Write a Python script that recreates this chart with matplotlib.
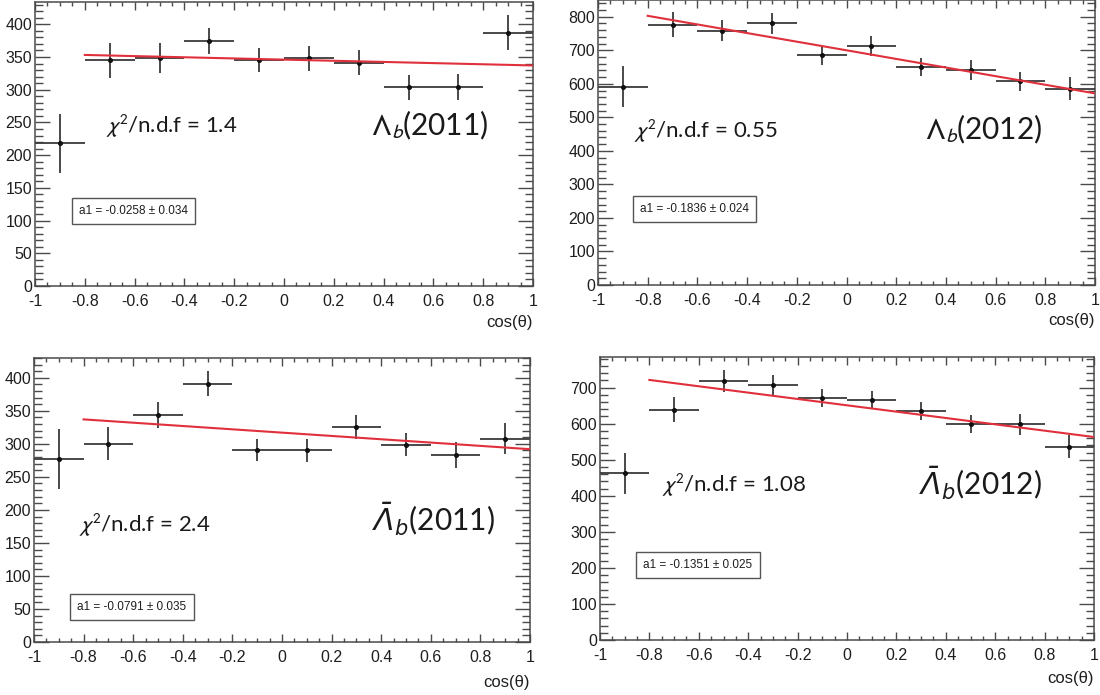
import numpy as np
import matplotlib
matplotlib.use("Agg")
import matplotlib.pyplot as plt
from matplotlib.ticker import MultipleLocator

# math fonts: italic throughout (used for the anti-baryon symbol)
plt.rcParams["mathtext.fontset"] = "custom"
plt.rcParams["mathtext.rm"] = "DejaVu Sans:italic"
plt.rcParams["mathtext.it"] = "DejaVu Sans:italic"
plt.rcParams["mathtext.sf"] = "DejaVu Sans"
plt.rcParams["mathtext.bf"] = "DejaVu Sans:bold"

W, H = 1100, 695

# bin centres of cos(theta), bin half-width 0.1
cos_theta = [-0.9, -0.7, -0.5, -0.3, -0.1, 0.1, 0.3, 0.5, 0.7, 0.9]

lb2011_counts = [218, 345, 348, 375, 345, 348, 341, 304, 304, 387]
lb2011_errs = [45, 27, 23, 20, 18, 19, 19, 19, 20, 27]

lb2012_counts = [592, 776, 758, 780, 685, 713, 651, 642, 607, 585]
lb2012_errs = [60, 37, 31, 30, 28, 31, 27, 30, 29, 34]

lbbar2011_counts = [277, 300, 344, 391, 291, 290, 325, 299, 283, 308]
lbbar2011_errs = [46, 25, 20, 19, 17, 18, 18, 18, 20, 24]

lbbar2012_counts = [462, 639, 718, 708, 671, 667, 636, 599, 598, 536]
lbbar2012_errs = [58, 35, 30, 28, 26, 25, 25, 26, 29, 32]

# fit N * (1 + a1 * cos(theta)) over [-0.8, 1]
fit_norm = [346, 700, 317, 651]
fit_a1 = [-0.0258, -0.1836, -0.0791, -0.1351]
fit_a1_err = [0.034, 0.024, 0.035, 0.025]
chi2_ndf = ["1.4", "0.55", "2.4", "1.08"]
titles = [r"$\Lambda_b$(2011)", r"$\Lambda_b$(2012)",
          r"$\bar{\Lambda}_b$(2011)", r"$\bar{\Lambda}_b$(2012)"]
# upright capital Lambda for the baryon, italic for the anti-baryon
title_mathfont = ["stixsans", "stixsans", "custom", "custom"]

panels = [
    dict(box=(35, 533, 1.7, 286), ymax=434.5, major=50, minor=10,
         y=lb2011_counts, e=lb2011_errs,
         chi=(-0.715, 244), tit=(0.35, 245), a1=(-0.605, 114), xlab=322),
    dict(box=(598, 1095, 0.0, 285), ymax=850, major=100, minor=20,
         y=lb2012_counts, e=lb2012_errs,
         chi=(-0.854, 459), tit=(0.317, 464), a1=(-0.61, 226), xlab=320),
    dict(box=(34, 530, 358, 642), ymax=430, major=50, minor=10,
         y=lbbar2011_counts, e=lbbar2011_errs,
         chi=(-0.82, 177), tit=(0.363, 185), a1=(-0.605, 53), xlab=682),
    dict(box=(600, 1094, 357, 640), ymax=785, major=100, minor=20,
         y=lbbar2012_counts, e=lbbar2012_errs,
         chi=(-0.747, 429), tit=(0.291, 434), a1=(-0.603, 207), xlab=678),
]

fig = plt.figure(figsize=(W / 100, H / 100), dpi=100)
fig.patch.set_facecolor("white")

axis_col = "#4a4a4a"
text_col = "#1e1e1e"
tick_font = "Liberation Sans"

for i, p in enumerate(panels):
    x0, x1, y0, y1 = p["box"]
    ax = fig.add_axes([x0 / W, 1 - y1 / H, (x1 - x0) / W, (y1 - y0) / H])
    ax.set_xlim(-1, 1)
    ax.set_ylim(0, p["ymax"])

    # data points with bin-width horizontal bars
    ax.errorbar(cos_theta, p["y"], xerr=0.1, yerr=p["e"], fmt="o", ms=2.6,
                color="#111111", ecolor="#3a3a3a", elinewidth=1.3, capsize=0,
                zorder=3)

    # fitted line
    xf = np.linspace(-0.8, 1.0, 50)
    yf = fit_norm[i] * (1 + fit_a1[i] * xf)
    ax.plot(xf, yf, color="#e0303c", lw=1.5, zorder=4)

    # ticks on all four sides, pointing inwards
    ax.xaxis.set_major_locator(MultipleLocator(0.2))
    ax.xaxis.set_minor_locator(MultipleLocator(0.05))
    ax.yaxis.set_major_locator(MultipleLocator(p["major"]))
    ax.yaxis.set_minor_locator(MultipleLocator(p["minor"]))
    ax.tick_params(which="both", direction="in", top=True, right=True,
                   color=axis_col, width=1.0, labelcolor=text_col)
    ax.tick_params(axis="x", which="major", length=6, pad=6)
    ax.tick_params(axis="x", which="minor", length=3)
    ax.tick_params(axis="y", which="major", length=11, pad=2)
    ax.tick_params(axis="y", which="minor", length=5.5)
    ax.set_xticks([-1, -0.8, -0.6, -0.4, -0.2, 0, 0.2, 0.4, 0.6, 0.8, 1])
    ax.set_xticklabels(["-1", "-0.8", "-0.6", "-0.4", "-0.2", "0",
                        "0.2", "0.4", "0.6", "0.8", "1"])
    for lab in ax.get_xticklabels() + ax.get_yticklabels():
        lab.set_fontfamily(tick_font)
        lab.set_fontsize(11.5)
    for s in ax.spines.values():
        s.set_color(axis_col)
        s.set_linewidth(1.1)

    # axis title
    fig.text(x1 / W, 1 - p["xlab"] / H, "cos(\u03b8)", ha="right",
             va="center", fontsize=12, family=tick_font, color=text_col)

    # annotations
    ax.text(p["chi"][0], p["chi"][1], r"$\chi^2$/n.d.f = " + chi2_ndf[i],
            ha="left", va="center", fontsize=16, family="Lato",
            color="#1a1a1a", math_fontfamily="stixsans")
    ax.text(p["tit"][0], p["tit"][1], titles[i], ha="left", va="center",
            fontsize=21.5, family="Lato", color="#1a1a1a",
            math_fontfamily=title_mathfont[i])
    ax.text(p["a1"][0], p["a1"][1],
            "a1 = %.4f \u00b1 %.3f" % (fit_a1[i], fit_a1_err[i]),
            ha="center", va="center", fontsize=8.5, family=tick_font,
            color=text_col,
            bbox=dict(boxstyle="square,pad=0.6", fc="white",
                      ec="#555555", lw=1.0))

fig.savefig("out.png", dpi=100, facecolor="white")
